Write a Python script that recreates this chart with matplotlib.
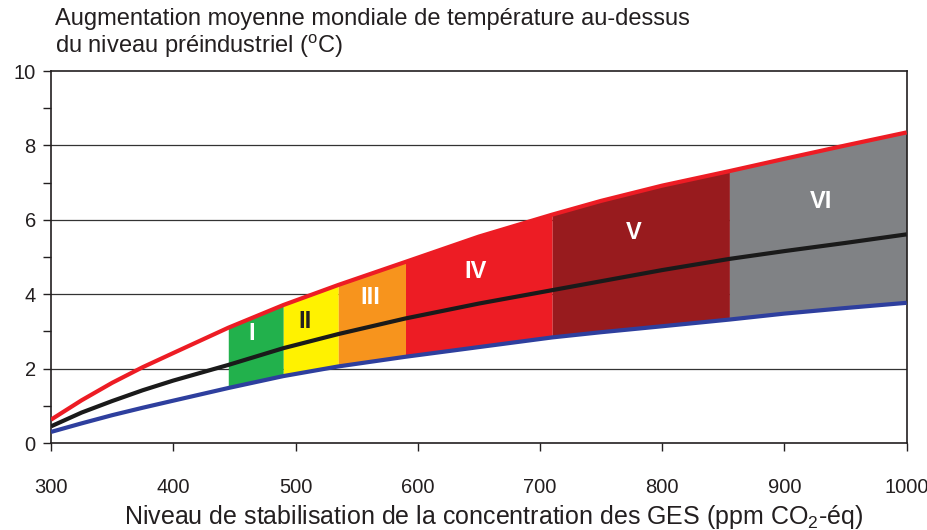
import numpy as np
import matplotlib
matplotlib.use('Agg')
import matplotlib.pyplot as plt

plt.rcParams['font.family'] = ['Liberation Sans', 'DejaVu Sans']
plt.rcParams['mathtext.fontset'] = 'custom'
plt.rcParams['mathtext.rm'] = 'Liberation Sans'

# concentration (ppm CO2-eq) and warming
ppm = [300, 325, 350, 375, 400, 445, 490, 535, 590, 650, 710, 750, 800, 855, 900, 950, 1000]
t_high = [0.63, 1.15, 1.62, 2.04, 2.42, 3.10, 3.71, 4.25, 4.87, 5.55, 6.14, 6.51, 6.92, 7.31, 7.64, 8.00, 8.35]
t_best = [0.45, 0.82, 1.13, 1.42, 1.68, 2.10, 2.55, 2.93, 3.35, 3.75, 4.11, 4.35, 4.65, 4.95, 5.16, 5.38, 5.61]
t_low = [0.30, 0.53, 0.75, 0.95, 1.14, 1.48, 1.80, 2.06, 2.32, 2.58, 2.84, 2.98, 3.14, 3.32, 3.48, 3.63, 3.77]

# stabilisation categories
cat_names = ['I', 'II', 'III', 'IV', 'V', 'VI']
cat_start = [445, 490, 535, 590, 710, 855]
cat_end = [490, 535, 590, 710, 855, 1000]
cat_colors = ['#22b14c', '#fff200', '#f7941d', '#ed1c24', '#981b1e', '#808285']
cat_text_colors = ['white', '#231f20', 'white', 'white', 'white', 'white']
cat_label_x = [464, 508, 561, 647, 777, 930]
cat_label_y = [2.95, 3.28, 3.9, 4.6, 5.65, 6.5]

ppm_arr = np.array(ppm)
hi = np.array(t_high)
lo = np.array(t_low)

fig = plt.figure(figsize=(9.28, 5.30), dpi=100, facecolor='white')
ax = fig.add_axes([0.055, 0.164, 0.922, 0.702])

for y in (2, 4, 6, 8):
    ax.axhline(y, color='#333333', linewidth=0.9, zorder=1)

for name, a, b, c, tc, lx, ly in zip(cat_names, cat_start, cat_end, cat_colors,
                                     cat_text_colors, cat_label_x, cat_label_y):
    m = (ppm_arr >= a) & (ppm_arr <= b)
    ax.fill_between(ppm_arr[m], lo[m], hi[m], color=c, linewidth=0, zorder=2)
    ax.text(lx, ly, name, color=tc, fontsize=17, fontweight='bold',
            ha='center', va='center', zorder=5)

ax.plot(ppm, t_high, color='#ed1c24', linewidth=3, zorder=4, solid_capstyle='butt')
ax.plot(ppm, t_low, color='#2e3f9e', linewidth=3, zorder=4, solid_capstyle='butt')
ax.plot(ppm, t_best, color='#1a1a1a', linewidth=3, zorder=4, solid_capstyle='butt')

ax.set_xlim(300, 1000)
ax.set_ylim(0, 10)
ax.set_xticks(range(300, 1001, 100))
ax.set_yticks(range(0, 11, 2))
ax.set_yticks(range(1, 10, 2), minor=True)
ax.tick_params(axis='both', which='both', direction='out', length=6, width=1,
               colors='#231f20', labelsize=14.5)
ax.tick_params(axis='x', pad=19)
ax.tick_params(axis='y', pad=5)
for s in ax.spines.values():
    s.set_color('#231f20')
    s.set_linewidth(1.2)

ax.set_xlabel('Niveau de stabilisation de la concentration des GES (ppm CO$_2$-éq)',
              fontsize=18, color='#231f20')
ax.xaxis.set_label_coords(0.5175, -0.16)
fig.text(0.059, 0.964, 'Augmentation moyenne mondiale de température au-dessus',
         fontsize=17, color='#231f20', va='center', ha='left')
fig.text(0.059, 0.913, 'du niveau préindustriel ($^{\\mathrm{o}}$C)',
         fontsize=17, color='#231f20', va='center', ha='left')

plt.savefig('out.png', dpi=100, facecolor='white')
